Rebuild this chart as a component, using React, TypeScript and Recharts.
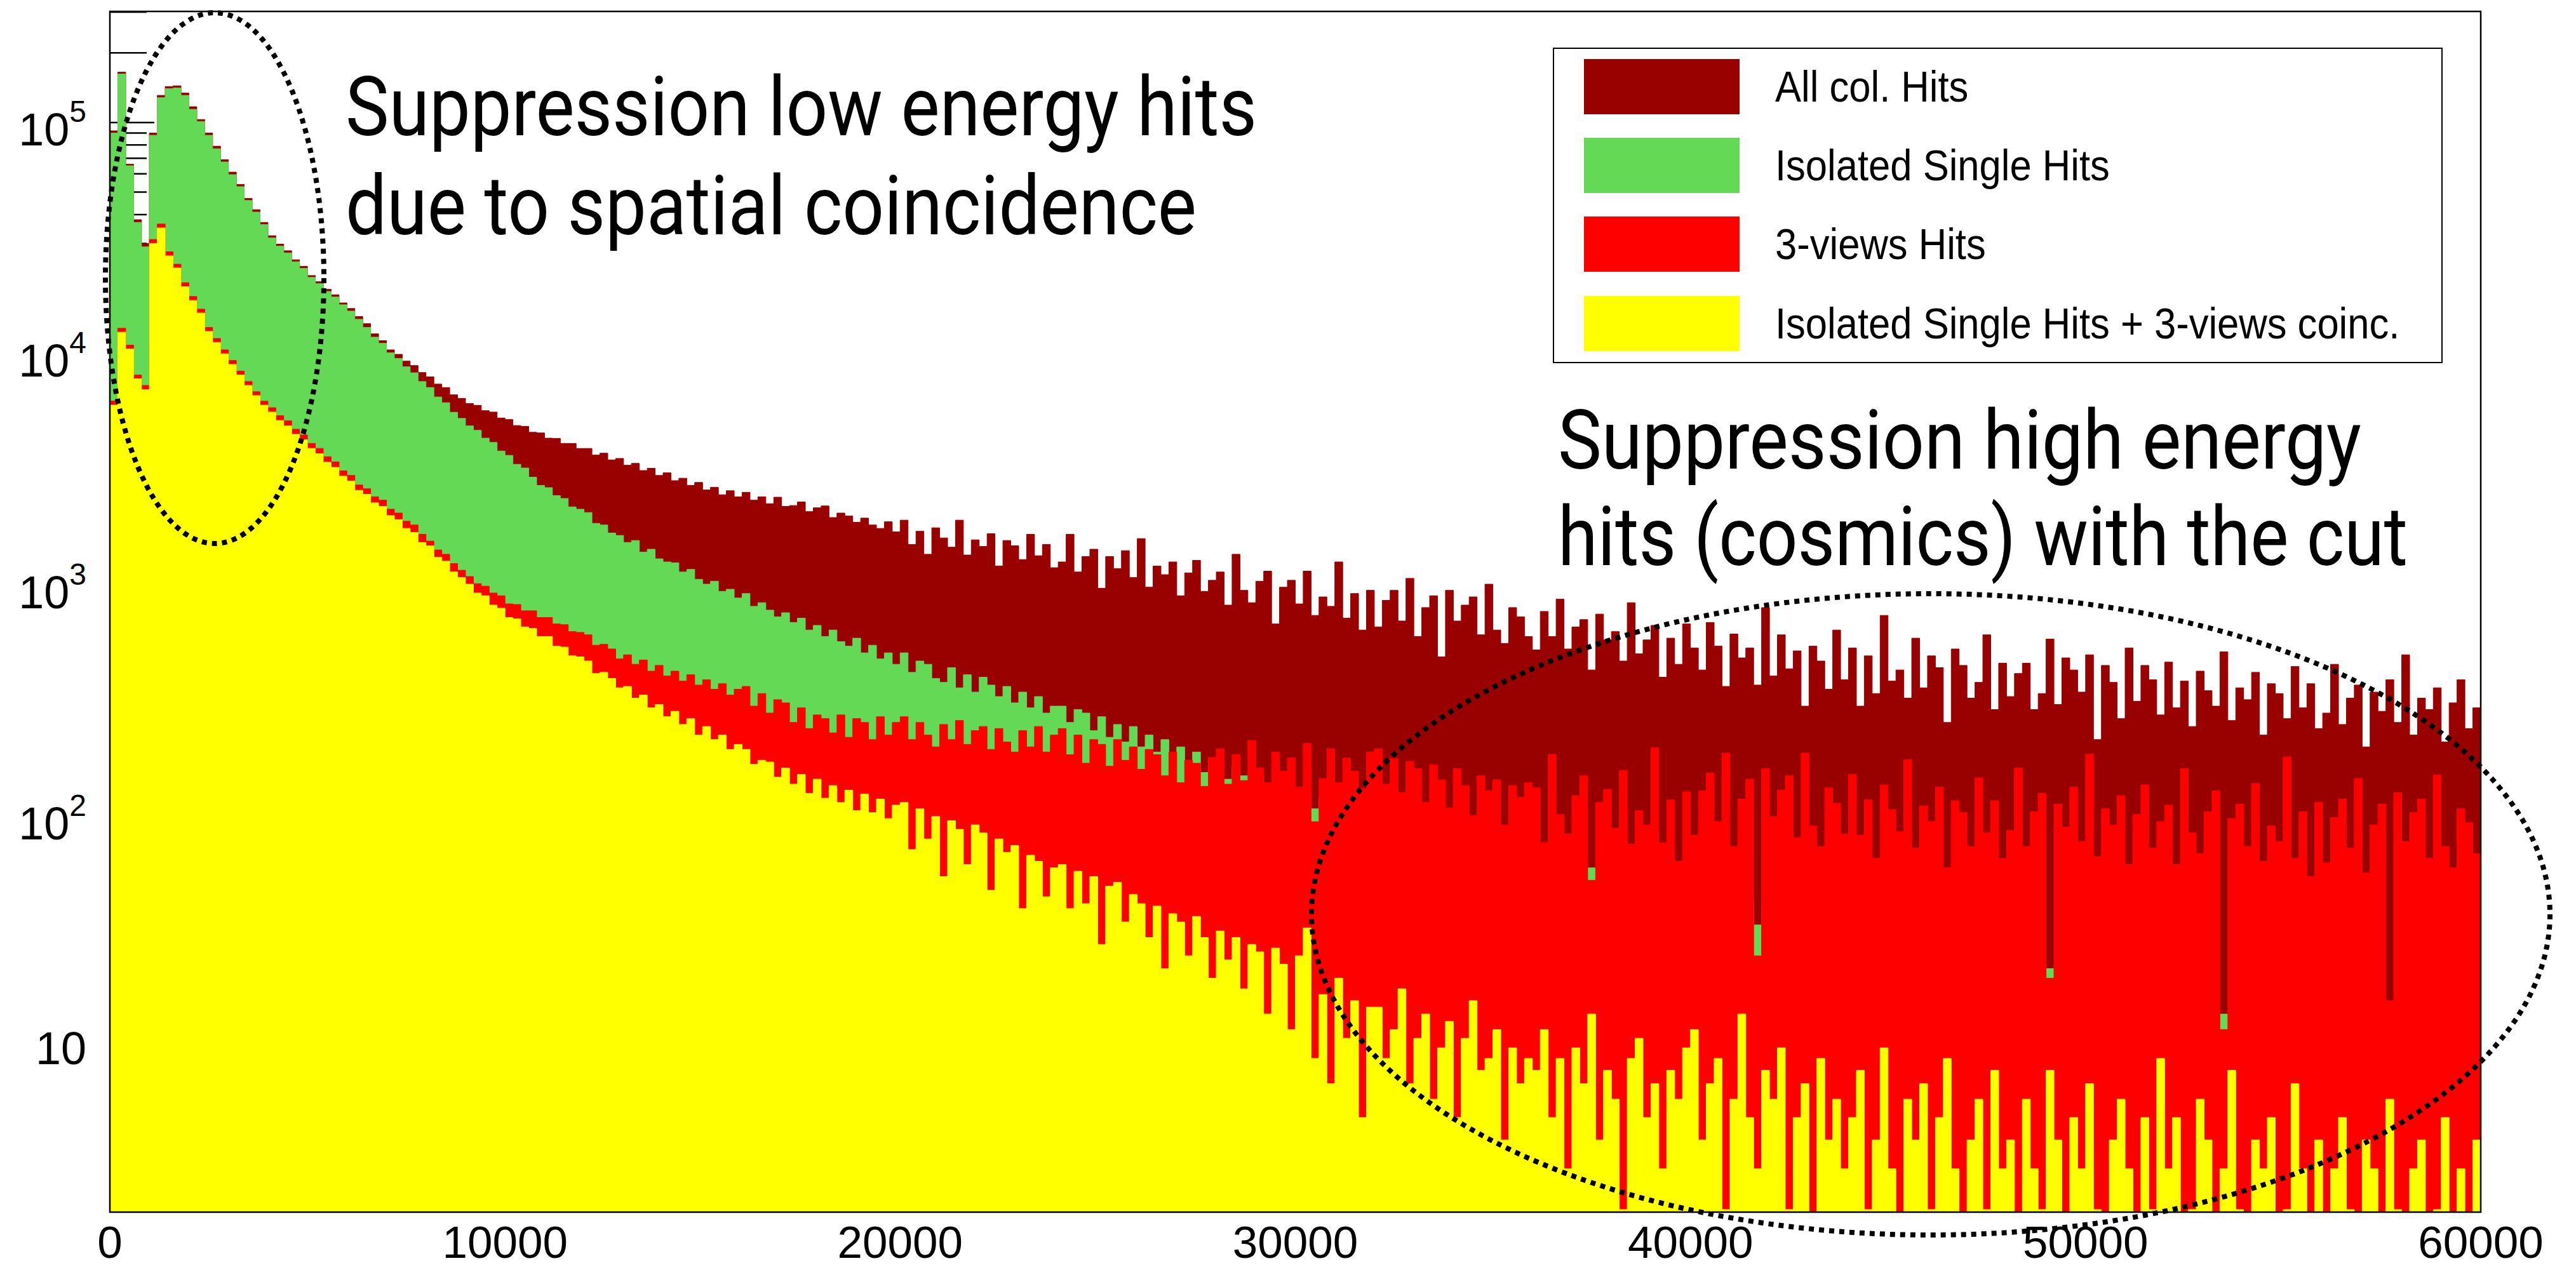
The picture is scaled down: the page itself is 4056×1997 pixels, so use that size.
import React from 'react';
import { AreaChart, Area, XAxis, YAxis, Legend } from 'recharts';

const BIN_WIDTH = 200;
const X_MAX = 60000;
const Y_MIN = 1.95;
const Y_MAX = 3.02e5;

const xTickValues = [0, 10000, 20000, 30000, 40000, 50000, 60000];

// counts per 200-wide bin, 20 bins (= 4000) per line
const allColHits = [
  92000, 165000, 66000, 38000, 30000, 90000, 131000, 143000, 144000, 134000, 117000, 103000, 90000, 79000, 69000, 61000, 54000, 47000, 42000, 37000,
  32400, 29800, 27900, 25500, 23900, 21800, 20500, 19000, 18000, 16600, 15700, 14500, 13500, 12200, 11400, 10400, 9950, 9300, 8900, 8300,
  7950, 7400, 7150, 6650, 6420, 6100, 5990, 5680, 5600, 5280, 5200, 4900, 4860, 4580, 4550, 4320, 4310, 4100, 4100, 3900,
  3900, 3650, 3720, 3480, 3530, 3300, 3360, 3130, 3200, 2980, 3060, 2830, 2900, 2700, 2780, 2580, 2650, 2460, 2560, 2410,
  2520, 2330, 2410, 2250, 2400, 2190, 2210, 2290, 2080, 2160, 2200, 1960, 2050, 1990, 1870, 1950, 1820, 1760, 1880, 1700,
  1910, 1500, 1710, 1360, 1770, 1600, 1460, 1910, 1350, 1570, 1470, 1670, 1210, 1560, 1480, 1290, 1660, 1340, 1500, 1190,
  1260, 1660, 1140, 1330, 1430, 970, 1330, 1180, 1410, 1080, 1590, 980, 1210, 1110, 1260, 900, 1130, 1280, 940, 1050,
  1140, 820, 1360, 950, 840, 1040, 1150, 680, 980, 1050, 830, 1150, 740, 890, 810, 1260, 720, 920, 640, 950,
  660, 860, 950, 700, 1070, 600, 800, 900, 490, 950, 700, 820, 890, 610, 1010, 640, 560, 800, 730, 600,
  525, 770, 600, 870, 530, 660, 710, 430, 750, 580, 630, 470, 840, 505, 580, 670, 400, 590, 455, 680,
  535, 430, 690, 545, 365, 615, 485, 535, 370, 800, 405, 610, 435, 520, 300, 545, 470, 355, 640, 390,
  535, 300, 495, 340, 740, 385, 430, 325, 590, 360, 495, 440, 255, 530, 450, 325, 380, 610, 290, 460,
  330, 415, 460, 290, 340, 585, 305, 485, 430, 345, 500, 215, 450, 380, 265, 535, 315, 450, 390, 275,
  465, 295, 385, 245, 425, 350, 300, 515, 260, 360, 320, 420, 225, 375, 340, 265, 445, 295, 375, 240,
  280, 455, 250, 325, 370, 200, 345, 285, 390, 255, 500, 225, 325, 290, 360, 210, 310, 390, 240, 295,
];

const isolatedSingleHits = [
  90000, 162000, 65000, 37000, 29000, 88000, 128000, 140000, 141000, 131000, 114000, 101000, 88000, 77000, 67500, 59500, 52800, 46000, 41000, 36200,
  31700, 29200, 27300, 25000, 23400, 21400, 20100, 18600, 17600, 16300, 15300, 14100, 13000, 11800, 11100, 10100, 9550, 8790, 8280, 7590,
  7150, 6510, 6150, 5590, 5260, 4880, 4670, 4320, 4140, 3800, 3640, 3330, 3210, 2930, 2700, 2640, 2440, 2370, 2180, 2130,
  2060, 1850, 1820, 1680, 1640, 1530, 1560, 1390, 1430, 1300, 1260, 1250, 1140, 1170, 1060, 1010, 1040, 940, 960, 880,
  920, 810, 840, 780, 730, 760, 690, 720, 640, 670, 600, 640, 570, 545, 590, 510, 550, 480, 510, 455,
  510, 420, 470, 455, 395, 380, 440, 360, 410, 345, 400, 370, 330, 365, 310, 345, 295, 330, 280, 300,
  300, 255, 290, 280, 235, 270, 220, 250, 210, 245, 200, 225, 190, 215, 175, 200, 165, 190, 155, 175,
  170, 145, 165, 150, 132, 150, 128, 140, 118, 135, 112, 126, 108, 121, 100, 114, 98, 110, 90, 104,
  104, 86, 98, 95, 80, 92, 78, 88, 74, 86, 72, 83, 69, 80, 66, 76, 64, 74, 61, 70,
  70, 58, 67, 64, 55, 62, 53, 60, 51, 59, 50, 56, 48, 55, 46, 52, 45, 51, 43, 48,
  50, 39, 47, 45, 37, 44, 36, 43, 34, 41, 33, 40, 31, 38, 30, 37, 29, 35, 27, 33,
  35, 28, 34, 33, 27, 32, 26, 31, 25, 30, 24, 29, 23, 28, 22, 27, 21, 26, 20, 25,
  25, 20, 24, 23, 19, 22, 18, 22, 17, 21, 16, 20, 16, 19, 15, 18, 15, 17, 14, 16,
  16, 13, 15, 15, 12, 14, 12, 14, 11, 13, 11, 13, 10, 13, 10, 12, 10, 12, 9, 11,
  12, 9, 11, 11, 9, 11, 9, 10, 8, 10, 9, 11, 8, 10, 8, 10, 9, 11, 8, 10,
];

const threeViewsHits = [
  6250, 12900, 10900, 8100, 7300, 31200, 36400, 27600, 24400, 20300, 17700, 15600, 13000, 11650, 10400, 9360, 8420, 7590, 6860, 6240,
  5850, 5400, 5130, 4720, 4460, 4100, 3900, 3590, 3410, 3120, 2980, 2710, 2610, 2410, 2330, 2130, 2050, 1890, 1820, 1660,
  1550, 1420, 1360, 1240, 1160, 1090, 1015, 990, 925, 900, 830, 825, 775, 775, 725, 725, 680, 675, 630, 625,
  610, 550, 555, 530, 480, 500, 455, 475, 425, 450, 405, 425, 385, 410, 370, 390, 355, 375, 335, 355,
  365, 300, 340, 280, 320, 310, 255, 295, 240, 275, 265, 230, 275, 220, 265, 255, 215, 270, 225, 255,
  270, 215, 255, 225, 200, 250, 215, 260, 205, 235, 245, 195, 240, 210, 190, 235, 200, 245, 190, 225,
  240, 185, 225, 170, 215, 205, 165, 215, 175, 200, 160, 195, 185, 150, 190, 140, 175, 170, 135, 180,
  196, 138, 185, 143, 213, 162, 140, 190, 157, 179, 134, 207, 95, 146, 196, 140, 179, 157, 132, 190,
  196, 138, 178, 127, 173, 161, 115, 167, 144, 109, 161, 136, 101, 150, 129, 144, 92, 136, 121, 140,
  133, 77, 185, 102, 84, 123, 150, 53, 115, 131, 89, 158, 76, 106, 92, 198, 77, 118, 64, 128,
  83, 129, 154, 95, 188, 74, 119, 145, 25, 161, 100, 130, 150, 81, 188, 91, 74, 133, 114, 84,
  152, 83, 118, 66, 137, 107, 86, 176, 73, 111, 95, 134, 60, 117, 104, 74, 147, 85, 117, 66,
  87, 162, 74, 105, 126, 20, 113, 90, 134, 78, 186, 67, 108, 92, 123, 62, 102, 137, 73, 95,
  112, 62, 161, 85, 69, 105, 129, 12, 98, 113, 74, 139, 64, 91, 78, 181, 66, 105, 55, 115,
  63, 99, 119, 73, 146, 57, 92, 113, 16, 127, 78, 104, 119, 66, 151, 74, 60, 108, 94, 69,
];

const isolatedPlusCoinc = [
  6000, 12400, 10500, 7800, 7000, 30000, 35000, 26500, 23500, 19500, 17000, 15000, 12500, 11200, 10000, 9000, 8100, 7300, 6600, 6000,
  5600, 5150, 4880, 4490, 4250, 3900, 3700, 3400, 3230, 2960, 2820, 2570, 2470, 2270, 2190, 2000, 1920, 1760, 1690, 1530,
  1480, 1320, 1270, 1140, 1080, 1010, 925, 900, 820, 795, 725, 715, 660, 650, 600, 600, 545, 540, 495, 490,
  470, 415, 420, 395, 360, 365, 325, 335, 295, 305, 270, 285, 250, 265, 225, 245, 215, 225, 195, 205,
  195, 168, 175, 172, 148, 162, 138, 152, 126, 145, 120, 136, 115, 130, 106, 125, 104, 119, 98, 112,
  115, 72, 108, 80, 100, 55, 96, 88, 62, 92, 85, 48, 80, 70, 75, 40, 68, 64, 45, 60,
  62, 40, 58, 42, 55, 28, 50, 52, 35, 46, 42, 30, 41, 22, 38, 35, 25, 37, 30, 20,
  32, 24, 30, 18, 28, 26, 14, 27, 23, 12, 25, 33, 9, 17, 7, 20, 11, 16, 5, 15,
  15, 9, 12, 18, 7, 11, 14, 6, 10, 13, 5, 11, 16, 8, 9, 12, 4, 10, 7, 9,
  8, 12, 5, 9, 3, 10, 7, 14, 4, 8, 6, 2, 9, 11, 5, 7, 3, 8, 6, 10,
  12, 4, 7, 9, 2, 6, 14, 5, 3, 8, 6, 10, 2, 5, 7, 0, 9, 4, 6, 3,
  5, 8, 2, 4, 10, 3, 0, 6, 4, 7, 2, 5, 9, 3, 0, 4, 6, 2, 8, 3,
  4, 0, 6, 3, 2, 8, 4, 0, 5, 3, 7, 2, 0, 4, 6, 3, 0, 5, 2, 9,
  3, 5, 0, 2, 6, 4, 0, 3, 8, 2, 0, 4, 3, 5, 0, 2, 7, 3, 0, 4,
  0, 3, 5, 2, 0, 4, 3, 0, 6, 2, 0, 3, 4, 0, 2, 5, 0, 3, 0, 4,
];

const seriesKeys = ['all', 'single', 'views', 'coinc'];
const seriesNames = ['All col. Hits', 'Isolated Single Hits', '3-views Hits', 'Isolated Single Hits + 3-views coinc.'];
const seriesColors = ['#990000', '#63d955', '#ff0000', '#ffff00'];
const seriesValues = [allColHits, isolatedSingleHits, threeViewsHits, isolatedPlusCoinc];

// log axis ticks: 2..9 x 10^k inside the range, labels only on the decades
const yTickValues: number[] = [];
for (let p = 0; p <= 5; p++) {
  for (let m = 1; m <= 9; m++) {
    const v = m * Math.pow(10, p);
    if (v >= Y_MIN && v <= Y_MAX) yTickValues.push(v);
  }
}

// empty bins sit on the floor of the log axis
const rows: any[] = allColHits.map((_, i) => {
  const row: any = { x: i * BIN_WIDTH };
  seriesKeys.forEach((k, s) => {
    row[k] = Math.max(seriesValues[s][i], Y_MIN);
  });
  return row;
});
rows.push({ ...rows[rows.length - 1], x: X_MAX });

const tickFont = '"Liberation Sans", Arial, Helvetica, sans-serif';
const CHART_W = 4056;
const CHART_H = 1997;
const MARGIN = { top: 18, right: 150, bottom: 0, left: 0 };

const isDecade = (v: number) => {
  const exp = Math.round(Math.log10(v));
  return Math.abs(Math.pow(10, exp) - v) < 1e-6 * v;
};

// tick marks point into the frame (ROOT style); they live in the back chart so the fills hide them
function YTickMark(props: any) {
  const { x, y, payload } = props;
  const axisX = x + 37;
  return <line x1={axisX} x2={axisX + (isDecade(payload.value) ? 70 : 58)} y1={y} y2={y} stroke="#000" strokeWidth={2.5} />;
}

function YTickLabel(props: any) {
  const { x, y, payload } = props;
  const v = payload.value;
  if (!isDecade(v)) return <g />;
  const exp = Math.round(Math.log10(v));
  if (exp === 1) {
    return <text x={x} y={y + 26} textAnchor="end" fontSize={72} fontFamily={tickFont} fill="#000">10</text>;
  }
  return (
    <text x={x} y={y + 36} textAnchor="end" fontSize={72} fontFamily={tickFont} fill="#000">
      10<tspan dy={-37} fontSize={48}>{exp}</tspan>
    </text>
  );
}

function XTick(props: any) {
  const { x, y, payload } = props;
  return (
    <text x={x} y={y + 46} textAnchor="middle" fontSize={71} fontFamily={tickFont} fill="#000">
      {payload.value}
    </text>
  );
}

const legendRowTops = [16, 140, 264, 389];

function LegendBox() {
  return (
    <div
      style={{
        width: 1401,
        height: 497,
        border: '2.5px solid #000',
        boxSizing: 'border-box',
        background: '#fff',
        position: 'relative',
        fontFamily: tickFont,
      }}
    >
      {seriesNames.map((name, i) => (
        <div key={name}>
          <div
            style={{
              position: 'absolute',
              left: 47,
              top: legendRowTops[i],
              width: 245,
              height: 87,
              background: seriesColors[i],
            }}
          />
          <div
            style={{
              position: 'absolute',
              left: 348,
              top: legendRowTops[i] + 3,
              height: 80,
              lineHeight: '80px',
              fontSize: 68,
              whiteSpace: 'nowrap',
              color: '#000',
              transform: 'scaleX(0.905)',
              transformOrigin: 'left center',
            }}
          >
            {name}
          </div>
        </div>
      ))}
    </div>
  );
}

const notes = [
  { text: 'Suppression low energy hits', x: 544, y: 213, w: 1435 },
  { text: 'due to spatial coincidence', x: 544, y: 369, w: 1340 },
  { text: 'Suppression high energy', x: 2453, y: 738, w: 1265 },
  { text: 'hits (cosmics) with the cut', x: 2453, y: 890, w: 1338 },
];

function axes(yTick: any, xTick: any) {
  return [
    <XAxis
      key="x"
      dataKey="x"
      type="number"
      domain={[0, X_MAX]}
      allowDataOverflow
      ticks={xTickValues}
      interval={0}
      height={88}
      tickSize={0}
      tickMargin={26}
      tickLine={false}
      axisLine={false}
      tick={xTick}
    />,
    <YAxis
      key="y"
      type="number"
      scale="log"
      domain={[Y_MIN, Y_MAX]}
      allowDataOverflow
      ticks={yTickValues}
      interval={0}
      width={173}
      tickSize={0}
      tickMargin={37}
      tickLine={false}
      axisLine={false}
      tick={yTick}
    />,
  ];
}

const layer: React.CSSProperties = { position: 'absolute', left: 0, top: 0 };

export default function App() {
  return (
    <div style={{ position: 'absolute', left: 0, top: 0, width: CHART_W, height: CHART_H, background: '#fff' }}>
      <div style={layer}>
        <AreaChart width={CHART_W} height={CHART_H} data={rows} margin={MARGIN}>
          {axes((p: any) => <YTickMark {...p} />, false)}
        </AreaChart>
      </div>
      <div style={layer}>
        <AreaChart width={CHART_W} height={CHART_H} data={rows} margin={MARGIN}>
          {axes((p: any) => <YTickLabel {...p} />, (p: any) => <XTick {...p} />)}
          {seriesKeys.map((k, i) => (
            <Area
              key={k}
              type="stepAfter"
              dataKey={k}
              name={seriesNames[i]}
              fill={seriesColors[i]}
              fillOpacity={1}
              stroke={seriesColors[i]}
              strokeWidth={1}
              dot={false}
              activeDot={false}
              isAnimationActive={false}
            />
          ))}
          <Legend
            layout="vertical"
            align="center"
            verticalAlign="middle"
            wrapperStyle={{ left: 2445, top: 75, width: 1401, height: 497 }}
            content={() => <LegendBox />}
          />
        </AreaChart>
      </div>
      <svg width={CHART_W} height={CHART_H} style={{ ...layer, pointerEvents: 'none' }}>
        <rect x={173} y={18} width={3733} height={1891} fill="none" stroke="#000" strokeWidth={2.5} />
        <ellipse cx={338} cy={438} rx={172} ry={418} fill="none" stroke="#000" strokeWidth={8} strokeDasharray="8 8" />
        <ellipse cx={3040} cy={1440} rx={975} ry={505} fill="none" stroke="#000" strokeWidth={8} strokeDasharray="8 8" />
        {notes.map((n) => (
          <text
            key={n.text}
            x={n.x}
            y={n.y}
            fontSize={129}
            fontFamily="Roboto, 'Open Sans', sans-serif"
            fill="#000"
            textLength={n.w}
            lengthAdjust="spacingAndGlyphs"
          >
            {n.text}
          </text>
        ))}
      </svg>
    </div>
  );
}
